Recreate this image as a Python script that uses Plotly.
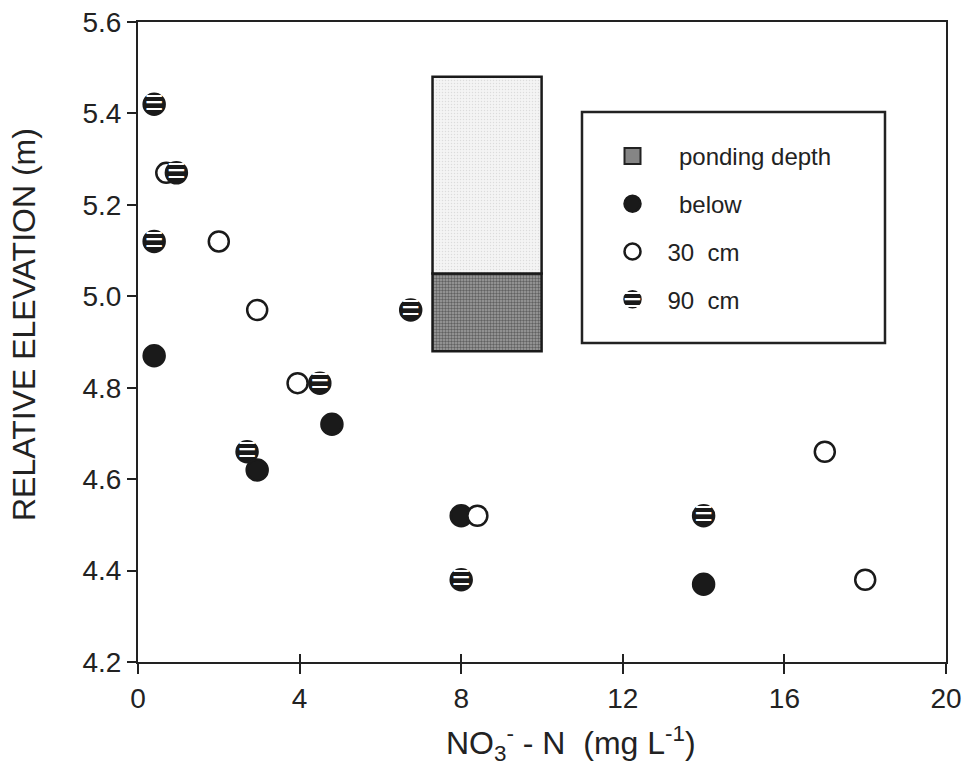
import plotly.graph_objects as go

# ---- data ----
below_x = [0.4, 4.8, 2.95, 8.0, 14.0]
below_y = [4.87, 4.72, 4.62, 4.52, 4.37]

cm30_x = [0.7, 2.0, 2.95, 3.95, 8.4, 17.0, 18.0]
cm30_y = [5.27, 5.12, 4.97, 4.81, 4.52, 4.66, 4.38]

cm90_x = [0.4, 0.95, 0.4, 6.75, 4.5, 2.7, 8.0, 14.0]
cm90_y = [5.42, 5.27, 5.12, 4.97, 4.81, 4.66, 4.38, 4.52]

# ponding box (x-centre, width, floor, ponding-depth level, top)
pond_x = [8.64]
pond_width = [2.7]
pond_floor = [4.88]
pond_level = [5.05]
pond_top = [5.48]

x_ticks = [0, 4, 8, 12, 16, 20]
y_ticks = [4.2, 4.4, 4.6, 4.8, 5.0, 5.2, 5.4, 5.6]
y_ticklabels = ["4.2", "4.4", "4.6", "4.8", "5.0", "5.2", "5.4", "5.6"]

FONT = "Liberation Sans, Arial, sans-serif"
STRIPE = "\u2630"
STRIPE_SIZE = 21
INK = "#1a1a1a"

fig = go.Figure()

# ponding box: dark lower part (ponding depth) and light upper part
fig.add_trace(go.Bar(
    x=pond_x, y=[pond_level[0] - pond_floor[0]], base=pond_floor, width=pond_width,
    marker=dict(color="#808080", line=dict(color=INK, width=2.5),
                pattern=dict(shape=".", fgcolor="#222222", bgcolor="#a0a0a0", size=3, solidity=0.5)),
    showlegend=False, hoverinfo="skip"))
fig.add_trace(go.Bar(
    x=pond_x, y=[pond_top[0] - pond_level[0]], base=pond_level, width=pond_width,
    marker=dict(color="#eeeeee", line=dict(color=INK, width=2.5),
                pattern=dict(shape=".", fgcolor="#c4c4c4", bgcolor="#f4f4f4", size=3, solidity=0.2)),
    showlegend=False, hoverinfo="skip"))

# legend entry for ponding depth
fig.add_trace(go.Scatter(
    x=[None], y=[None], mode="markers", name="\u00a0\u2009ponding depth", legendgroup="a",
    marker=dict(symbol="square", size=21, color="#858585", line=dict(color="#222", width=2))))

fig.add_trace(go.Scatter(
    x=below_x, y=below_y, mode="markers", name="\u00a0\u2009below", legendgroup="b",
    marker=dict(symbol="circle", size=21, color=INK, line=dict(color=INK, width=2.5))))

fig.add_trace(go.Scatter(
    x=cm30_x, y=cm30_y, mode="markers", name="30\u00a0\u00a0cm", legendgroup="c",
    marker=dict(symbol="circle", size=20, color="white", line=dict(color=INK, width=2.5))))

fig.add_trace(go.Scatter(
    x=cm90_x, y=cm90_y, mode="markers+text", name="90\u00a0\u00a0cm", legendgroup="d",
    text=[STRIPE] * len(cm90_x), textposition="middle center",
    textfont=dict(family="DejaVu Sans", size=STRIPE_SIZE, color="white"),
    marker=dict(symbol="circle", size=21, color=INK, line=dict(color=INK, width=2.5))))

# x axis inside ticks overlay
fig.add_trace(go.Scatter(x=[None], y=[None], xaxis="x2", showlegend=False, hoverinfo="skip"))

fig.update_layout(
    width=968, height=770,
    margin=dict(l=138, r=22, t=22, b=108),
    paper_bgcolor="white", plot_bgcolor="white",
    font=dict(family=FONT, color="#222"),
    barmode="overlay",
    xaxis=dict(range=[0, 20], tickvals=x_ticks, ticks="outside", ticklen=10, tickwidth=2,
               tickcolor="#222", showline=True, linecolor="#222", linewidth=2, mirror=True,
               showgrid=False, zeroline=False, automargin=False,
               tickfont=dict(size=28, family=FONT)),
    xaxis2=dict(range=[0, 20], tickvals=x_ticks, ticks="inside", ticklen=8, tickwidth=2,
                tickcolor="#222", overlaying="x", matches="x", showticklabels=False,
                showgrid=False, zeroline=False, showline=False, automargin=False),
    yaxis=dict(range=[4.2, 5.6], tickvals=y_ticks, ticktext=y_ticklabels, ticks="outside",
               ticklen=9, tickwidth=2, tickcolor="#222", showline=True, linecolor="#222",
               linewidth=2, mirror=True, showgrid=False, zeroline=False, automargin=False,
               tickfont=dict(size=28, family=FONT)),
    legend=dict(x=0.5687, y=0.825, xanchor="left", yanchor="top",
                bgcolor="rgba(0,0,0,0)", borderwidth=0,
                font=dict(size=24, family=FONT, color="#222"),
                itemwidth=60, traceorder="grouped", tracegroupgap=13.5),
    shapes=[dict(type="rect", xref="paper", yref="paper",
                 x0=0.5495, x1=0.9245, y0=0.4984, y1=0.8594,
                 line=dict(color="#222", width=2.5), fillcolor="rgba(0,0,0,0)", layer="below")],
    annotations=[
        # stripes on the 90 cm legend symbol
        dict(text=STRIPE, xref="paper", yref="paper", x=0.6114, y=0.5656,
             xanchor="center", yanchor="middle", showarrow=False,
             font=dict(family="DejaVu Sans", size=STRIPE_SIZE, color="white")),
        # axis titles
        dict(text="NO<sub>3</sub><sup>-</sup> - N\u00a0\u00a0(mg L<sup>-1</sup>)",
             xref="paper", yref="paper", x=0.536, y=-0.128, xanchor="center", yanchor="middle",
             showarrow=False, font=dict(size=32, family=FONT, color="#222")),
        dict(text="RELATIVE ELEVATION (m)", textangle=-90,
             xref="paper", yref="paper", x=-0.141, y=0.5266, xanchor="center", yanchor="middle",
             showarrow=False, font=dict(size=32, family=FONT, color="#222")),
    ],
)

fig.write_html("out.html")
